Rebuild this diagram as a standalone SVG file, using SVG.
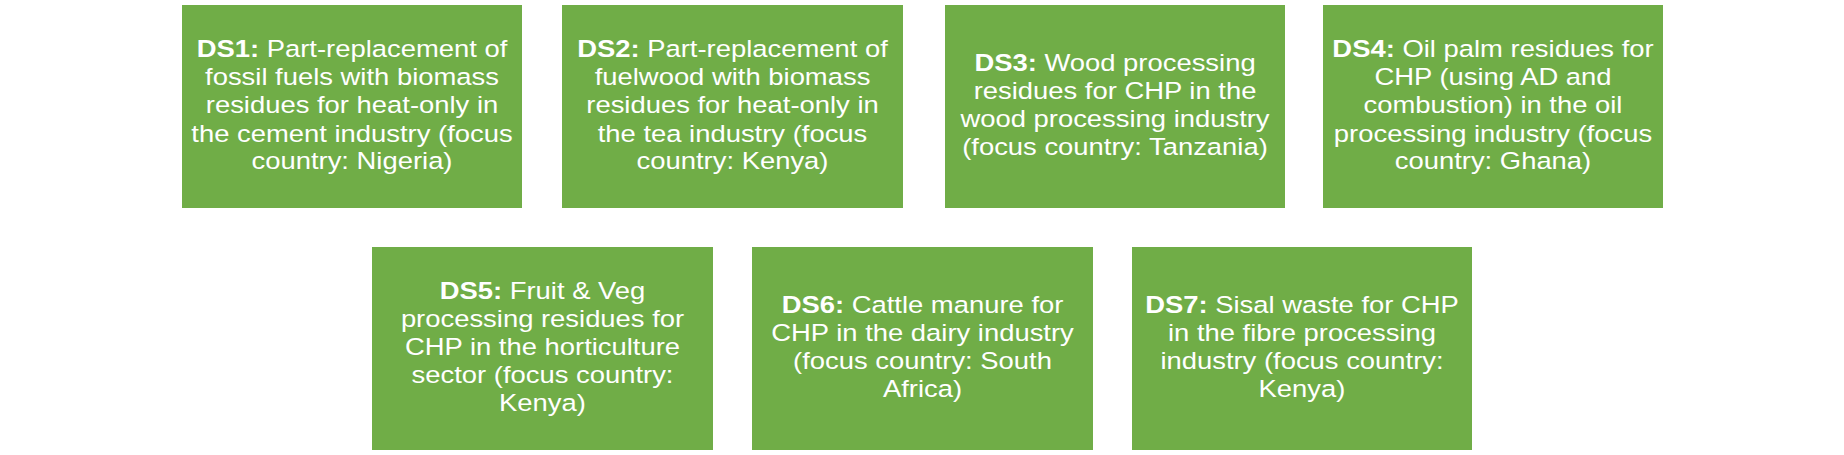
<svg xmlns="http://www.w3.org/2000/svg" width="1844" height="455" viewBox="0 0 1844 455">
<style>
.box{fill:#70AD47;}
.t{font-family:"Liberation Sans",Arial,sans-serif;font-size:24.3px;fill:#FFFFFF;text-anchor:middle;}
.b{font-weight:bold;}
</style>
<rect x="0" y="0" width="1844" height="455" fill="#FFFFFF"/>
<g id="connectors"></g>
<g id="ds1">
<rect class="box" x="182" y="5" width="340" height="203"/>
<text class="t" transform="translate(352,0) scale(1.128,1)"><tspan x="0" y="57.5"><tspan class="b">DS1:</tspan> Part-replacement of</tspan><tspan x="0" y="85.5">fossil fuels with biomass</tspan><tspan x="0" y="113.5">residues for heat-only in</tspan><tspan x="0" y="141.5">the cement industry (focus</tspan><tspan x="0" y="169.5">country: Nigeria)</tspan></text>
</g>
<g id="ds2">
<rect class="box" x="562" y="5" width="341" height="203"/>
<text class="t" transform="translate(732.5,0) scale(1.128,1)"><tspan x="0" y="57.5"><tspan class="b">DS2:</tspan> Part-replacement of</tspan><tspan x="0" y="85.5">fuelwood with biomass</tspan><tspan x="0" y="113.5">residues for heat-only in</tspan><tspan x="0" y="141.5">the tea industry (focus</tspan><tspan x="0" y="169.5">country: Kenya)</tspan></text>
</g>
<g id="ds3">
<rect class="box" x="945" y="5" width="340" height="203"/>
<text class="t" transform="translate(1115,0) scale(1.128,1)"><tspan x="0" y="71.5"><tspan class="b">DS3:</tspan> Wood processing</tspan><tspan x="0" y="99.5">residues for CHP in the</tspan><tspan x="0" y="127.5">wood processing industry</tspan><tspan x="0" y="155.5">(focus country: Tanzania)</tspan></text>
</g>
<g id="ds4">
<rect class="box" x="1323" y="5" width="340" height="203"/>
<text class="t" transform="translate(1493,0) scale(1.128,1)"><tspan x="0" y="57.5"><tspan class="b">DS4:</tspan> Oil palm residues for</tspan><tspan x="0" y="85.5">CHP (using AD and</tspan><tspan x="0" y="113.5">combustion) in the oil</tspan><tspan x="0" y="141.5">processing industry (focus</tspan><tspan x="0" y="169.5">country: Ghana)</tspan></text>
</g>
<g id="ds5">
<rect class="box" x="372" y="247" width="341" height="203"/>
<text class="t" transform="translate(542.5,0) scale(1.128,1)"><tspan x="0" y="299.5"><tspan class="b">DS5:</tspan> Fruit &amp; Veg</tspan><tspan x="0" y="327.5">processing residues for</tspan><tspan x="0" y="355.5">CHP in the horticulture</tspan><tspan x="0" y="383.5">sector (focus country:</tspan><tspan x="0" y="411.5">Kenya)</tspan></text>
</g>
<g id="ds6">
<rect class="box" x="752" y="247" width="341" height="203"/>
<text class="t" transform="translate(922.5,0) scale(1.128,1)"><tspan x="0" y="313.5"><tspan class="b">DS6:</tspan> Cattle manure for</tspan><tspan x="0" y="341.5">CHP in the dairy industry</tspan><tspan x="0" y="369.5">(focus country: South</tspan><tspan x="0" y="397.5">Africa)</tspan></text>
</g>
<g id="ds7">
<rect class="box" x="1132" y="247" width="340" height="203"/>
<text class="t" transform="translate(1302,0) scale(1.128,1)"><tspan x="0" y="313.5"><tspan class="b">DS7:</tspan> Sisal waste for CHP</tspan><tspan x="0" y="341.5">in the fibre processing</tspan><tspan x="0" y="369.5">industry (focus country:</tspan><tspan x="0" y="397.5">Kenya)</tspan></text>
</g>
</svg>
